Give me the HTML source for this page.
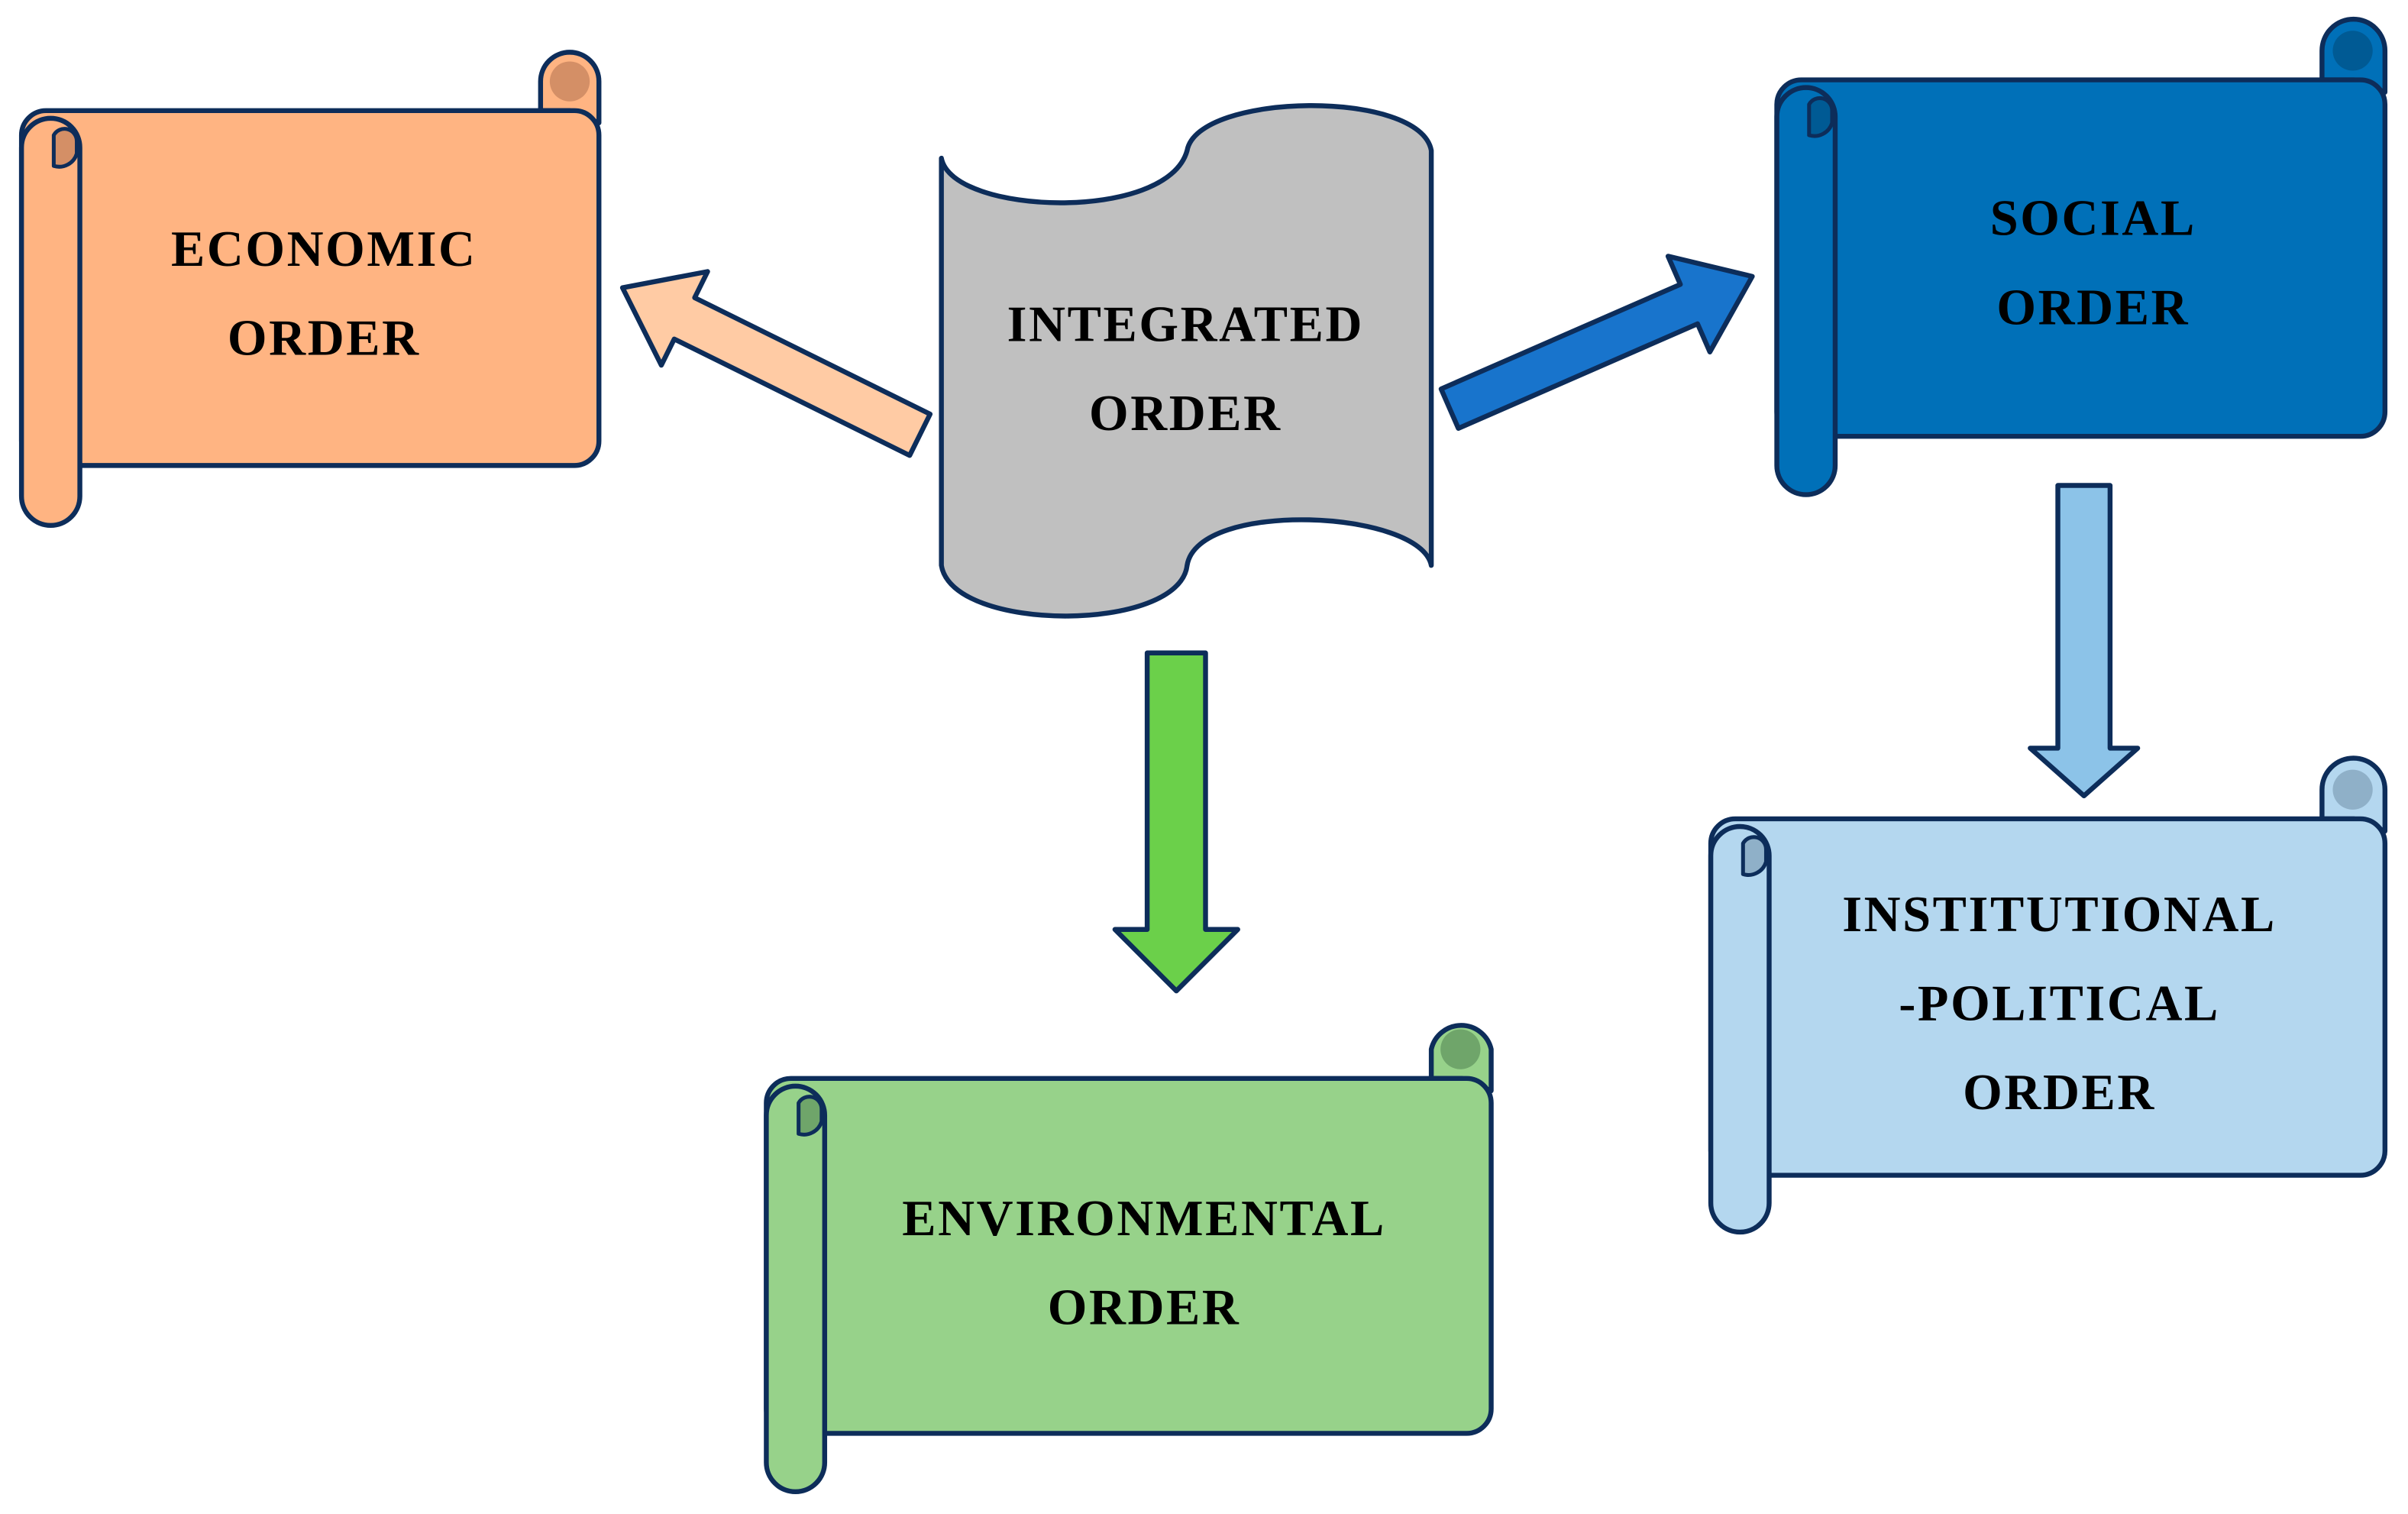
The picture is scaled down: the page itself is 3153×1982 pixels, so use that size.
<!DOCTYPE html>
<html><head><meta charset="utf-8">
<style>
html,body{margin:0;padding:0;background:#fff;}
svg{display:block;}
text{font-family:"Liberation Serif",serif;font-weight:bold;font-size:33px;fill:#000;text-anchor:middle;letter-spacing:1.3px;}
</style></head>
<body>
<svg width="3153" height="1982" viewBox="0 0 1568 985.5" preserveAspectRatio="none" xmlns="http://www.w3.org/2000/svg">
<g stroke="#0d2d5a" stroke-width="3.2" stroke-linejoin="round">

<path d="M371,72 L352,72 L352,53 A19,19 0 0 1 390,53 L390,80 Z" fill="#ffb482"/>
<circle cx="371" cy="53" r="13" fill="#d48f66" stroke="none"/>
<rect x="14" y="72" width="376" height="231" rx="16" fill="#ffb482"/>
<path d="M14,96 A19,19 0 0 1 52,96 L52,323 A19,19 0 0 1 14,323 Z" fill="#ffb482"/>
<path d="M35,108 L35,88 A8,8 0 0 1 50,92 L50,100 A12,12 0 0 1 35,108 Z" fill="#d48f66" stroke-width="2.5"/>

<path d="M1533,52 L1512,52 L1512,33 A20.5,20.5 0 0 1 1553,33 L1553,60 Z" fill="#0070b8"/>
<circle cx="1532" cy="33" r="13" fill="#005a94" stroke="none"/>
<rect x="1157" y="52" width="396" height="232" rx="16" fill="#0070b8"/>
<path d="M1157,76 A19,19 0 0 1 1195,76 L1195,303 A19,19 0 0 1 1157,303 Z" fill="#0070b8"/>
<path d="M1178,88 L1178,68 A8,8 0 0 1 1193,72 L1193,80 A12,12 0 0 1 1178,88 Z" fill="#005a94" stroke-width="2.5"/>

<path d="M1533,533 L1512,533 L1512,514 A20.5,20.5 0 0 1 1553,514 L1553,541 Z" fill="#b4d7ef"/>
<circle cx="1532" cy="514" r="13" fill="#8fb0c8" stroke="none"/>
<rect x="1114" y="533" width="439" height="232" rx="16" fill="#b4d7ef"/>
<path d="M1114,557 A19,19 0 0 1 1152,557 L1152,783 A19,19 0 0 1 1114,783 Z" fill="#b4d7ef"/>
<path d="M1135,569 L1135,549 A8,8 0 0 1 1150,553 L1150,561 A12,12 0 0 1 1135,569 Z" fill="#8fb0c8" stroke-width="2.5"/>

<path d="M952,702 L932,702 L932,683 A20,20 0 0 1 971,683 L971,710 Z" fill="#97d28a"/>
<circle cx="951" cy="683" r="13" fill="#6fa56a" stroke="none"/>
<rect x="499" y="702" width="472" height="231" rx="16" fill="#97d28a"/>
<path d="M499,726 A19,19 0 0 1 537,726 L537,952 A19,19 0 0 1 499,952 Z" fill="#97d28a"/>
<path d="M520,738 L520,718 A8,8 0 0 1 535,722 L535,730 A12,12 0 0 1 520,738 Z" fill="#6fa56a" stroke-width="2.5"/>

<path d="M613,103 C620,140 760,145 773,98 C780,60 925,58 932,98 L932,368 C925,332 780,325 773,368 C768,412 620,412 613,368 Z" fill="#c0c0c0"/>

<g transform="translate(599,283) rotate(206.3)">
<polygon points="0,-15 171,-15 171,-34 216,0 171,34 171,15 0,15" fill="#ffcba4"/>
</g>
<g transform="translate(944,266) rotate(-23.6)">
<polygon points="0,-14 170,-14 170,-34 215,0 170,34 170,14 0,14" fill="#1874cc"/>
</g>
<g transform="translate(766,425) rotate(90)">
<polygon points="0,-19 180,-19 180,-40 220,0 180,40 180,19 0,19" fill="#6bd04a"/>
</g>
<g transform="translate(1357,316) rotate(90)">
<polygon points="0,-17 171,-17 171,-35 202,0 171,35 171,17 0,17" fill="#8cc3e8"/>
</g>
</g>

<text x="211" y="173">ECONOMIC</text>
<text x="211" y="231">ORDER</text>
<text x="772" y="222">INTEGRATED</text>
<text x="772" y="280">ORDER</text>
<text x="1363" y="153">SOCIAL</text>
<text x="1363" y="211">ORDER</text>
<text x="1341" y="606">INSTITUTIONAL</text>
<text x="1341" y="664">-POLITICAL</text>
<text x="1341" y="722">ORDER</text>
<text x="745" y="804">ENVIRONMENTAL</text>
<text x="745" y="862">ORDER</text>
</svg>
</body></html>
